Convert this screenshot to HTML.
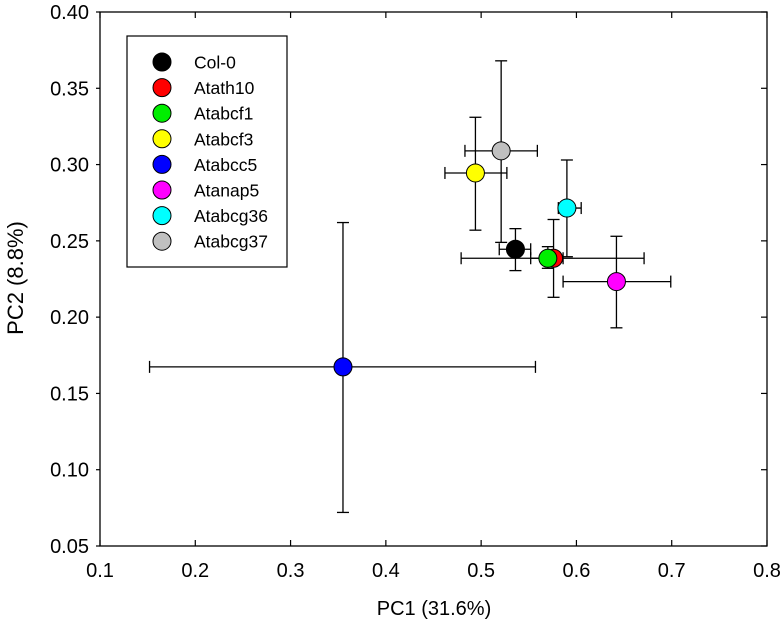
<!DOCTYPE html>
<html><head><meta charset="utf-8"><style>
body{margin:0;background:#fff}
svg{font-family:"Liberation Sans",Arial,sans-serif}
</style></head><body>
<svg id="chart" width="784" height="632" xmlns="http://www.w3.org/2000/svg"></svg>
<script>
const names=["Col-0","Atath10","Atabcf1","Atabcf3","Atabcc5","Atanap5","Atabcg36","Atabcg37"];
const colors=["#000000","#ff0000","#00ee00","#ffff00","#0000ff","#ff00ff","#00ffff","#c0c0c0"];
const pc1=[0.536,0.576,0.570,0.494,0.355,0.642,0.590,0.521];
const pc2=[0.2445,0.2386,0.2386,0.2945,0.1674,0.2233,0.2715,0.309];
const xLo=[0.519,0.479,0.552,0.462,0.152,0.586,0.581,0.483];
const xHi=[0.552,0.671,0.586,0.527,0.557,0.699,0.605,0.559];
const yLo=[0.2305,0.213,0.232,0.257,0.072,0.193,0.2396,0.249];
const yHi=[0.258,0.264,0.2462,0.331,0.262,0.253,0.303,0.368];
const xTicks=[0.1,0.2,0.3,0.4,0.5,0.6,0.7,0.8];
const yTicks=[0.05,0.10,0.15,0.20,0.25,0.30,0.35,0.40];
const L=100,R=767,T=12,B=546;
const X=v=>L+(v-0.1)/0.7*(R-L);
const Y=v=>B-(v-0.05)/0.35*(B-T);
const svg=document.getElementById('chart');
const NS="http://www.w3.org/2000/svg";
function mk(tag,a,parent){const e=document.createElementNS(NS,tag);for(const k in a)e.setAttribute(k,a[k]);(parent||svg).appendChild(e);return e;}
const frame=mk('rect',{x:L,y:T,width:R-L,height:B-T,fill:'none',stroke:'#000','stroke-width':1.3});


xTicks.forEach(t=>{
  const x=X(t);
  mk('line',{x1:x,y1:B,x2:x,y2:B-6,stroke:'#000','stroke-width':1.2});
  mk('line',{x1:x,y1:T,x2:x,y2:T+6,stroke:'#000','stroke-width':1.2});
  const tx=mk('text',{x:x,y:B+31,'text-anchor':'middle','font-size':20});
  tx.textContent=t.toFixed(1);
  
  
});
yTicks.forEach(t=>{
  const y=Y(t);
  mk('line',{x1:L-4,y1:y,x2:L,y2:y,stroke:'#000','stroke-width':1.2});
  mk('line',{x1:R-6,y1:y,x2:R,y2:y,stroke:'#000','stroke-width':1.2});
  const tx=mk('text',{x:L-11,y:y+7,'text-anchor':'end','font-size':20});
  tx.textContent=t.toFixed(2);
  
  
});
const xt=mk('text',{x:434,y:615,'text-anchor':'middle','font-size':20});
xt.textContent="PC1 (31.6%)";


const yt=mk('text',{x:0,y:0,'text-anchor':'middle','font-size':22,transform:`translate(23,278) rotate(-90)`});
yt.textContent="PC2 (8.8%)";


names.forEach((n,i)=>{
  const g=mk('g',{stroke:'#000','stroke-width':1.3});
  
  
  const cx=X(pc1[i]),cy=Y(pc2[i]);
  mk('line',{x1:X(xLo[i]),y1:cy,x2:X(xHi[i]),y2:cy},g);
  mk('line',{x1:X(xLo[i]),y1:cy-6,x2:X(xLo[i]),y2:cy+6},g);
  mk('line',{x1:X(xHi[i]),y1:cy-6,x2:X(xHi[i]),y2:cy+6},g);
  mk('line',{x1:cx,y1:Y(yLo[i]),x2:cx,y2:Y(yHi[i])},g);
  mk('line',{x1:cx-6,y1:Y(yLo[i]),x2:cx+6,y2:Y(yLo[i])},g);
  mk('line',{x1:cx-6,y1:Y(yHi[i]),x2:cx+6,y2:Y(yHi[i])},g);
});
names.forEach((n,i)=>{
  const c=mk('circle',{cx:X(pc1[i]),cy:Y(pc2[i]),r:9,fill:colors[i],stroke:'#000','stroke-width':1});
  
  
});
const lg=mk('g',{});


mk('rect',{x:127,y:36,width:160,height:231,fill:'#fff',stroke:'#000','stroke-width':1.2},lg);
names.forEach((n,i)=>{
  const y=62+i*25.6;
  const e=mk('g',{},lg);
  
  
  mk('circle',{cx:162,cy:y,r:9,fill:colors[i],stroke:'#000','stroke-width':1},e);
  const t=mk('text',{x:194,y:y+6.5,'font-size':17.5},e);
  t.textContent=n;
});
</script>
</body></html>
